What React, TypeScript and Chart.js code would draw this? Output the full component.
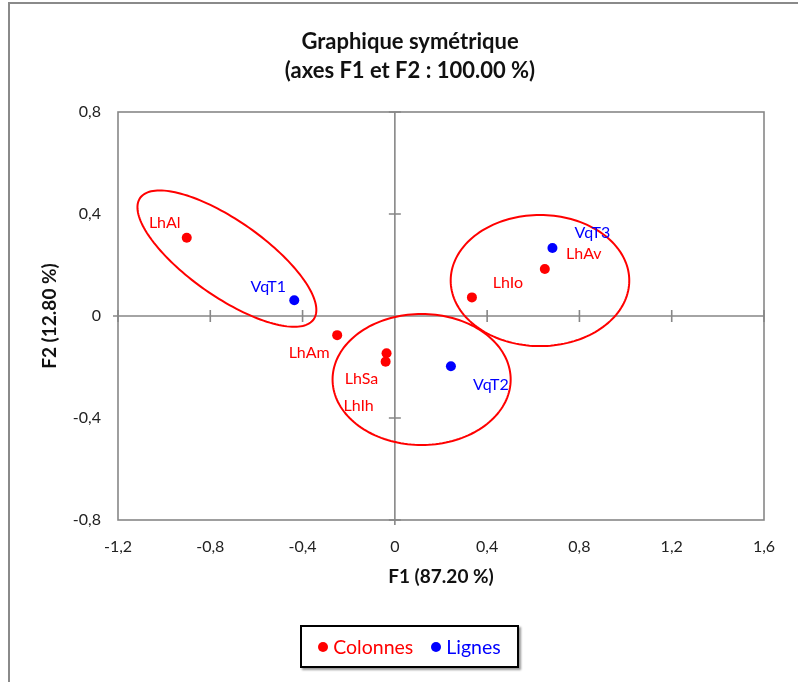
import React, { useEffect, useRef } from "react";
import { Chart, registerables } from "chart.js";

Chart.register(...registerables);

// ---- data ----
const colonnesLabels = ["LhAl", "LhAm", "LhSa", "LhIh", "LhIo", "LhAv"];
const colonnesX = [-0.902, -0.25, -0.036, -0.04, 0.334, 0.65];
const colonnesY = [0.307, -0.075, -0.146, -0.179, 0.073, 0.184];

const lignesLabels = ["VqT1", "VqT2", "VqT3"];
const lignesX = [-0.436, 0.243, 0.683];
const lignesY = [0.062, -0.197, 0.267];

const xTicks = [-1.2, -0.8, -0.4, 0, 0.4, 0.8, 1.2, 1.6];
const xTickLabels = ["-1,2", "-0,8", "-0,4", "0", "0,4", "0,8", "1,2", "1,6"];
const yTicks = [-0.8, -0.4, 0, 0.4, 0.8];
const yTickLabels = ["-0,8", "-0,4", "0", "0,4", "0,8"];

// group ellipses, in data units: centre, and two semi-axis vectors
const ellipseCx = [-0.728, 0.116, 0.629];
const ellipseCy = [0.225, -0.249, 0.139];
const ellipseAx = [0.376, 0.386, 0.387];
const ellipseAy = [-0.238, 0, 0];
const ellipseBx = [-0.0945, 0, 0];
const ellipseBy = [-0.122, 0.257, 0.257];

// ---- style: label placement relative to its point (px) ----
const labelPlacement: Record<string, [number, number]> = {
  LhAl: [-22, -15],
  LhAm: [-28, 18],
  LhSa: [-25, 26],
  LhIh: [-27, 44],
  LhIo: [36, -15],
  LhAv: [39, -15],
  VqT1: [-26, -13],
  VqT2: [40, 19],
  VqT3: [40, -15],
};

const RED = "#FF0000";
const BLUE = "#0000FF";
const AXIS = "#878787";
const FONT = "Lato, 'Open Sans', sans-serif";

const overlayPlugin = {
  id: "overlay",
  beforeDatasetsDraw(chart: any) {
    const { ctx, chartArea: a, scales } = chart;
    const x = scales.x;
    const y = scales.y;
    ctx.save();
    ctx.strokeStyle = AXIS;
    ctx.lineWidth = 1.6;
    ctx.strokeRect(a.left, a.top, a.right - a.left, a.bottom - a.top);
    const x0 = x.getPixelForValue(0);
    const y0 = y.getPixelForValue(0);
    ctx.beginPath();
    ctx.moveTo(a.left - 5, y0);
    ctx.lineTo(a.right, y0);
    ctx.moveTo(x0, a.top);
    ctx.lineTo(x0, a.bottom + 5);
    for (const v of xTicks) {
      const px = x.getPixelForValue(v);
      ctx.moveTo(px, y0 - 6);
      ctx.lineTo(px, y0 + 6);
    }
    for (const v of yTicks) {
      const py = y.getPixelForValue(v);
      ctx.moveTo(x0 - 6, py);
      ctx.lineTo(x0 + 6, py);
    }
    ctx.stroke();
    ctx.restore();
  },
  afterDatasetsDraw(chart: any) {
    const { ctx, scales } = chart;
    const x = scales.x;
    const y = scales.y;
    ctx.save();
    // ellipses
    ctx.strokeStyle = RED;
    ctx.lineWidth = 2;
    for (let i = 0; i < ellipseCx.length; i++) {
      ctx.beginPath();
      const n = 160;
      for (let k = 0; k <= n; k++) {
        const t = (k / n) * Math.PI * 2;
        const vx = ellipseCx[i] + ellipseAx[i] * Math.cos(t) + ellipseBx[i] * Math.sin(t);
        const vy = ellipseCy[i] + ellipseAy[i] * Math.cos(t) + ellipseBy[i] * Math.sin(t);
        const px = x.getPixelForValue(vx);
        const py = y.getPixelForValue(vy);
        if (k === 0) ctx.moveTo(px, py);
        else ctx.lineTo(px, py);
      }
      ctx.closePath();
      ctx.stroke();
    }
    // point labels
    ctx.font = `16px ${FONT}`;
    ctx.textAlign = "center";
    ctx.textBaseline = "middle";
    chart.data.datasets.forEach((ds: any, di: number) => {
      const meta = chart.getDatasetMeta(di);
      ctx.fillStyle = ds.labelColor;
      meta.data.forEach((el: any, j: number) => {
        const name = ds.names[j];
        const off = labelPlacement[name] || [0, -14];
        ctx.fillText(name, el.x + off[0], el.y + off[1]);
      });
    });
    ctx.restore();
  },
};

export default function App() {
  const canvasRef = useRef<HTMLCanvasElement | null>(null);

  useEffect(() => {
    if (!canvasRef.current) return;
    const chart = new Chart(canvasRef.current, {
      type: "scatter",
      data: {
        datasets: [
          {
            label: "Colonnes",
            names: colonnesLabels,
            labelColor: RED,
            data: colonnesX.map((v, i) => ({ x: v, y: colonnesY[i] })),
            backgroundColor: RED,
            borderColor: RED,
            pointRadius: 5,
            pointBorderWidth: 0,
          } as any,
          {
            label: "Lignes",
            names: lignesLabels,
            labelColor: BLUE,
            data: lignesX.map((v, i) => ({ x: v, y: lignesY[i] })),
            backgroundColor: BLUE,
            borderColor: BLUE,
            pointRadius: 5,
            pointBorderWidth: 0,
          } as any,
        ],
      },
      options: {
        responsive: true,
        maintainAspectRatio: false,
        animation: false,
        layout: { padding: { left: 0, top: 112, right: 34, bottom: 92 } },
        plugins: {
          legend: { display: false },
          title: { display: false },
          tooltip: { enabled: false },
        },
        scales: {
          x: {
            type: "linear",
            min: -1.2,
            max: 1.6,
            afterBuildTicks: (scale: any) => {
              scale.ticks = xTicks.map((v) => ({ value: v }));
            },
            afterFit: (scale: any) => {
              scale.height = 70;
            },
            grid: { display: false, drawTicks: false },
            border: { display: false },
            ticks: {
              padding: 17,
              color: "#222",
              font: { family: FONT, size: 16 },
              maxRotation: 0,
              callback: (v: any) => {
                const i = xTicks.findIndex((t) => Math.abs(t - Number(v)) < 1e-9);
                return i >= 0 ? xTickLabels[i] : "";
              },
            },
            title: {
              display: true,
              text: "F1 (87.20 %)",
              color: "#111",
              font: { family: FONT, size: 19, weight: "bold" },
              padding: { top: 0, bottom: 2 },
            },
          },
          y: {
            type: "linear",
            min: -0.8,
            max: 0.8,
            afterBuildTicks: (scale: any) => {
              scale.ticks = yTicks.map((v) => ({ value: v }));
            },
            afterFit: (scale: any) => {
              scale.width = 118;
            },
            grid: { display: false, drawTicks: false },
            border: { display: false },
            ticks: {
              padding: 17,
              color: "#222",
              font: { family: FONT, size: 16 },
              callback: (v: any) => {
                const i = yTicks.findIndex((t) => Math.abs(t - Number(v)) < 1e-9);
                return i >= 0 ? yTickLabels[i] : "";
              },
            },
            title: {
              display: true,
              text: "F2 (12.80 %)",
              color: "#111",
              font: { family: FONT, size: 19, weight: "bold" },
              padding: { top: 38, bottom: 0 },
            },
          },
        },
      } as any,
      plugins: [overlayPlugin],
    });
    return () => chart.destroy();
  }, []);

  return (
    <div style={{ position: "absolute", left: 0, top: 0, width: 798, height: 682, overflow: "hidden", background: "#fff" }}>
      <div
        style={{
          position: "absolute",
          left: 8,
          top: 2,
          width: 900,
          height: 800,
          borderLeft: "2px solid #8a8a8a",
          borderTop: "2px solid #8a8a8a",
        }}
      />
      <div style={{ position: "absolute", left: 0, top: 0, width: 798, height: 682 }}>
        <canvas ref={canvasRef} />
      </div>
      <div
        style={{
          position: "absolute",
          left: 0,
          top: 26,
          width: 820,
          textAlign: "center",
          fontFamily: FONT,
          fontWeight: "bold",
          fontSize: 22,
          lineHeight: "29px",
          color: "#111",
        }}
      >
        <div>Graphique symétrique</div>
        <div>(axes F1 et F2 : 100.00 %)</div>
      </div>
      <div
        style={{
          position: "absolute",
          left: 300,
          top: 625,
          width: 219,
          height: 43,
          boxSizing: "border-box",
          border: "2px solid #000",
          boxShadow: "2px 2px 2px #999",
          display: "flex",
          alignItems: "center",
          justifyContent: "center",
          fontFamily: FONT,
          fontSize: 19.5,
          background: "#fff",
        }}
      >
        <span style={{ display: "inline-block", width: 10, height: 10, borderRadius: 5, background: RED, marginRight: 5 }} />
        <span style={{ color: RED, marginRight: 18 }}>Colonnes</span>
        <span style={{ display: "inline-block", width: 10, height: 10, borderRadius: 5, background: BLUE, marginRight: 5 }} />
        <span style={{ color: BLUE }}>Lignes</span>
      </div>
    </div>
  );
}
